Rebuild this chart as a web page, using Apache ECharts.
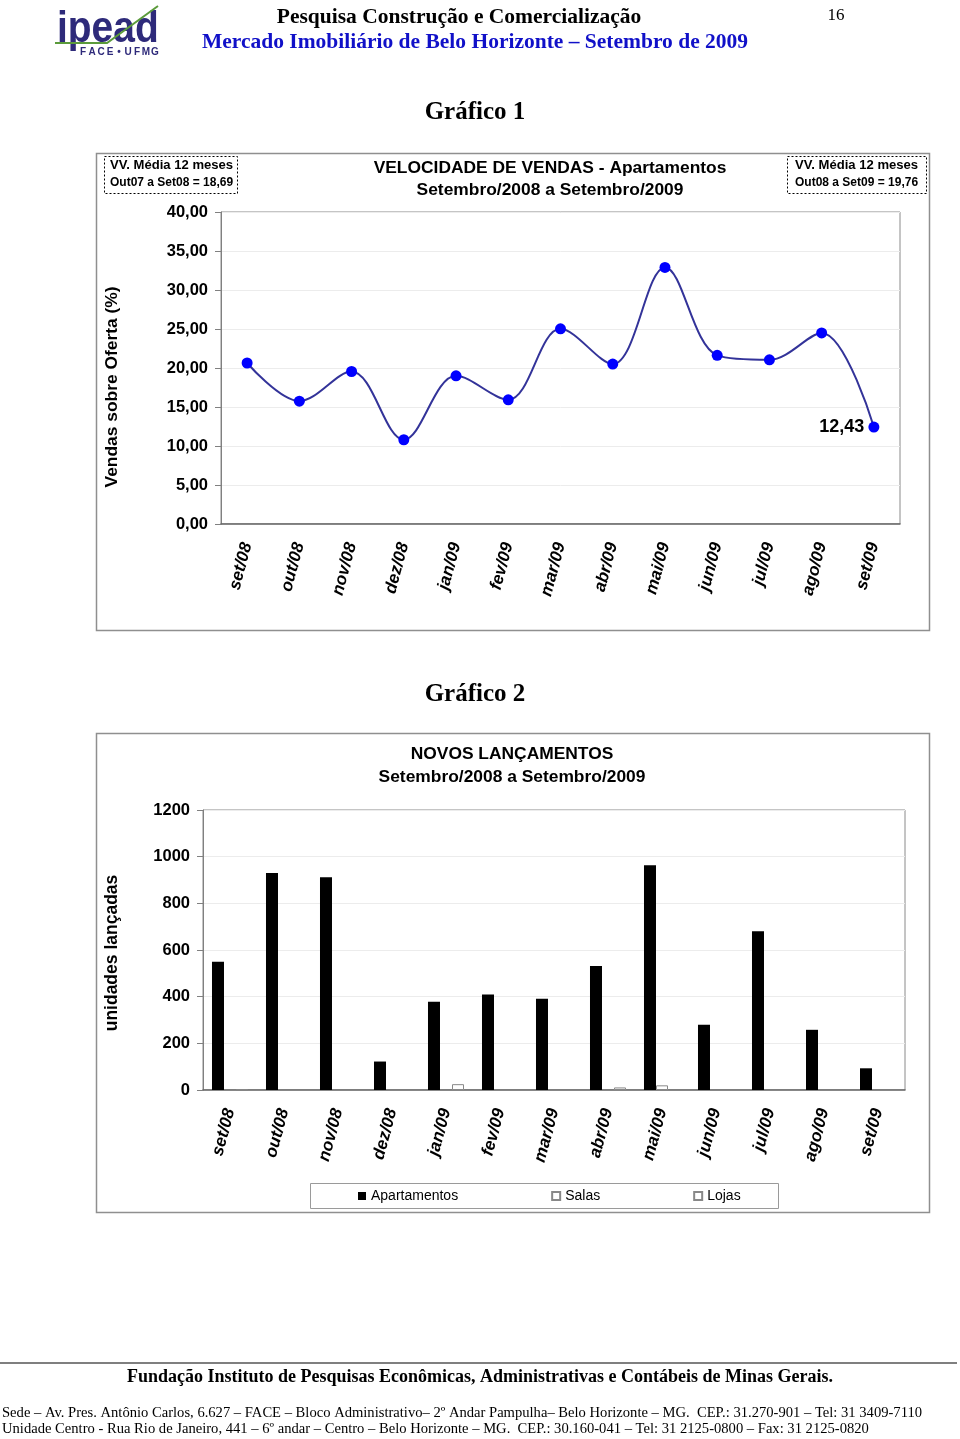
<!DOCTYPE html>
<html>
<head>
<meta charset="utf-8">
<script src="https://cdn.jsdelivr.net/npm/echarts@6/dist/echarts.min.js"></script>
<style>
html,body{margin:0;padding:0;background:#fff;}
#c{width:960px;height:1439px;}
</style>
</head>
<body>
<div id="c"></div>
<script>
// ---- data ----
const categories = ['set/08','out/08','nov/08','dez/08','jan/09','fev/09','mar/09','abr/09','mai/09','jun/09','jul/09','ago/09','set/09'];
const vendasOferta = [20.64, 15.75, 19.55, 10.80, 19.00, 15.92, 25.02, 20.50, 32.90, 21.62, 21.05, 24.50, 12.43];
const apartamentos = [550, 930, 912, 122, 378, 409, 391, 531, 963, 280, 680, 258, 93];
const salas = [0, 0, 0, 0, 0, 0, 0, 0, 20, 0, 0, 0, 0];
const lojas = [4, 0, 0, 0, 25, 0, 0, 11, 0, 0, 0, 0, 0];
const seriesNames = ['Apartamentos', 'Salas', 'Lojas'];

const SANS = "'Liberation Sans', Arial, sans-serif";
const SERIF = "'Liberation Serif', 'Times New Roman', serif";
const fmt2 = v => v.toFixed(2).replace('.', ',');

const chart = echarts.init(document.getElementById('c'), null, {renderer: 'canvas'});

function txt(x, y, text, font, fill, align, valign, extra) {
  return Object.assign({
    type: 'text', x: x, y: y, silent: true,
    style: {text: text, font: font, fill: fill || '#000', textAlign: align || 'left', textVerticalAlign: valign || 'middle'}
  }, extra || {});
}

const faceChars = 'FACE•UFMG'.split('');
const graphics = [
  // logo
  txt(57, 8, 'ipead', 'bold 44px ' + SANS, '#2e2a7a', 'left', 'top', {scaleX: 0.885, originX: 0, originY: 0}),
  {type: 'polyline', silent: true, shape: {points: [[55, 43], [107, 43], [158, 6]]}, style: {stroke: '#5b9b3b', lineWidth: 2, fill: null}},
  ...faceChars.map((ch, i) => txt(83 + i * 9, 52, ch, 'bold 10px ' + SANS, '#2e2a7a', 'center', 'middle')),
  // header
  txt(459, 17, 'Pesquisa Construção e Comercialização', 'bold 21.5px ' + SERIF, '#000', 'center'),
  txt(475, 42, 'Mercado Imobiliário de Belo Horizonte – Setembro de 2009', 'bold 21.5px ' + SERIF, '#1010c8', 'center'),
  txt(836, 16, '16', '17px ' + SERIF, '#000', 'center'),
  txt(475, 113, 'Gráfico 1', 'bold 25px ' + SERIF, '#000', 'center'),
  txt(475, 695, 'Gráfico 2', 'bold 25px ' + SERIF, '#000', 'center'),
  // chart 1 frame
  {type: 'rect', silent: true, shape: {x: 96.5, y: 153.5, width: 833, height: 477}, style: {fill: null, stroke: '#8f8f8f', lineWidth: 1.5}},
  txt(550, 168, 'VELOCIDADE DE VENDAS - Apartamentos', 'bold 17.4px ' + SANS, '#000', 'center'),
  txt(550, 190, 'Setembro/2008 a Setembro/2009', 'bold 17.4px ' + SANS, '#000', 'center'),
  {type: 'rect', silent: true, shape: {x: 104.5, y: 156.5, width: 133, height: 37}, style: {fill: null, stroke: '#000', lineWidth: 1, lineDash: [2, 2]}},
  txt(110, 166, 'VV. Média 12 meses', 'bold 12px ' + SANS, '#000', 'left', 'middle', {scaleX: 1.09, originX: 0, originY: 0}),
  txt(110, 183, 'Out07 a Set08 = 18,69', 'bold 12px ' + SANS, '#000', 'left'),
  {type: 'rect', silent: true, shape: {x: 787.5, y: 156.5, width: 139, height: 37}, style: {fill: null, stroke: '#000', lineWidth: 1, lineDash: [2, 2]}},
  txt(795, 166, 'VV. Média 12 meses', 'bold 12px ' + SANS, '#000', 'left', 'middle', {scaleX: 1.09, originX: 0, originY: 0}),
  txt(795, 183, 'Out08 a Set09 = 19,76', 'bold 12px ' + SANS, '#000', 'left'),
  txt(112, 387, 'Vendas sobre Oferta (%)', 'bold 17.4px ' + SANS, '#000', 'center', 'middle', {rotation: Math.PI / 2}),
  // chart 2 frame
  {type: 'rect', silent: true, shape: {x: 96.5, y: 733.5, width: 833, height: 479}, style: {fill: null, stroke: '#8f8f8f', lineWidth: 1.5}},
  txt(512, 754, 'NOVOS LANÇAMENTOS', 'bold 17.4px ' + SANS, '#000', 'center'),
  txt(512, 777, 'Setembro/2008 a Setembro/2009', 'bold 17.4px ' + SANS, '#000', 'center'),
  txt(112, 953, 'unidades lançadas', 'bold 17.5px ' + SANS, '#000', 'center', 'middle', {rotation: Math.PI / 2}),
  {type: 'rect', silent: true, shape: {x: 310.5, y: 1183.5, width: 468, height: 25}, style: {fill: null, stroke: '#9a9a9a', lineWidth: 1}},
  // footer
  {type: 'line', silent: true, shape: {x1: 0, y1: 1363, x2: 957, y2: 1363}, style: {stroke: '#555', lineWidth: 1.5}},
  txt(480, 1377, 'Fundação Instituto de Pesquisas Econômicas, Administrativas e Contábeis de Minas Gerais.', 'bold 18px ' + SERIF, '#000', 'center'),
  txt(2, 1413, 'Sede – Av. Pres. Antônio Carlos, 6.627 – FACE – Bloco Administrativo– 2º Andar Pampulha– Belo Horizonte – MG.  CEP.: 31.270-901 – Tel: 31 3409-7110', '14.6px ' + SERIF, '#000', 'left'),
  txt(2, 1429, 'Unidade Centro - Rua Rio de Janeiro, 441 – 6º andar – Centro – Belo Horizonte – MG.  CEP.: 30.160-041 – Tel: 31 2125-0800 – Fax: 31 2125-0820', '14.6px ' + SERIF, '#000', 'left')
];

const axisLabelX = {
  rotate: 75, margin: 19, fontSize: 17, fontWeight: 'bold', fontStyle: 'italic',
  fontFamily: SANS, color: '#000', interval: 0
};
const axisLabelY = {fontSize: 16.5, fontWeight: 'bold', fontFamily: SANS, color: '#000', margin: 13};

const option = {
  animation: false,
  backgroundColor: '#fff',
  textStyle: {fontFamily: SANS},
  grid: [
    {left: 221, top: 212, width: 679, height: 312, show: true, borderColor: '#8a8a8a', borderWidth: 1, containLabel: false},
    {left: 203, top: 810, width: 702, height: 280, show: true, borderColor: '#8a8a8a', borderWidth: 1, containLabel: false}
  ],
  legend: {
    data: seriesNames,
    left: 358, top: 1189, padding: 0,
    icon: 'rect', itemWidth: 8, itemHeight: 8, itemGap: 93,
    textStyle: {fontSize: 14, fontFamily: SANS, color: '#000'}
  },
  xAxis: [
    {type: 'category', gridIndex: 0, data: categories, boundaryGap: true,
     axisLine: {lineStyle: {color: '#666', width: 1.5}},
     axisTick: {length: 6, lineStyle: {color: '#777'}},
     axisLabel: axisLabelX},
    {type: 'category', gridIndex: 1, data: categories, boundaryGap: true,
     axisLine: {lineStyle: {color: '#666', width: 1.5}},
     axisTick: {length: 5, lineStyle: {color: '#777'}},
     axisLabel: axisLabelX}
  ],
  yAxis: [
    {type: 'value', gridIndex: 0, min: 0, max: 40, interval: 5,
     axisLine: {show: true, lineStyle: {color: '#808080'}},
     axisTick: {show: true, length: 6, lineStyle: {color: '#808080'}},
     splitLine: {lineStyle: {color: '#ececec'}},
     axisLabel: Object.assign({formatter: v => fmt2(v)}, axisLabelY)},
    {type: 'value', gridIndex: 1, min: 0, max: 1200, interval: 200,
     axisLine: {show: true, lineStyle: {color: '#808080'}},
     axisTick: {show: true, length: 6, lineStyle: {color: '#808080'}},
     splitLine: {lineStyle: {color: '#ececec'}},
     axisLabel: Object.assign({formatter: v => String(v)}, axisLabelY)}
  ],
  series: [
    {type: 'line', name: 'Vendas sobre Oferta', xAxisIndex: 0, yAxisIndex: 0,
     smooth: 0.35, symbol: 'circle', symbolSize: 11,
     lineStyle: {color: '#333399', width: 2},
     itemStyle: {color: '#0000ff'},
     data: vendasOferta.map((v, i) => i === vendasOferta.length - 1
       ? {value: v, label: {show: true, position: 'left', distance: 4, formatter: p => fmt2(p.value), fontSize: 18, fontWeight: 'bold', fontFamily: SANS, color: '#000'}}
       : v)},
    {type: 'bar', name: seriesNames[0], xAxisIndex: 1, yAxisIndex: 1,
     barGap: '0%', barCategoryGap: '33.3%',
     itemStyle: {color: '#000', borderColor: '#000', borderWidth: 0},
     data: apartamentos},
    {type: 'bar', name: seriesNames[1], xAxisIndex: 1, yAxisIndex: 1,
     barGap: '0%', barCategoryGap: '33.3%',
     itemStyle: {color: '#fff', borderColor: '#888', borderWidth: 1},
     data: salas.map(v => v === 0 ? '-' : v)},
    {type: 'bar', name: seriesNames[2], xAxisIndex: 1, yAxisIndex: 1,
     barGap: '0%', barCategoryGap: '33.3%',
     itemStyle: {color: '#fff', borderColor: '#888', borderWidth: 1},
     data: lojas.map(v => v === 0 ? '-' : v)}
  ],
  graphic: graphics
};
chart.setOption(option);
</script>
</body>
</html>
